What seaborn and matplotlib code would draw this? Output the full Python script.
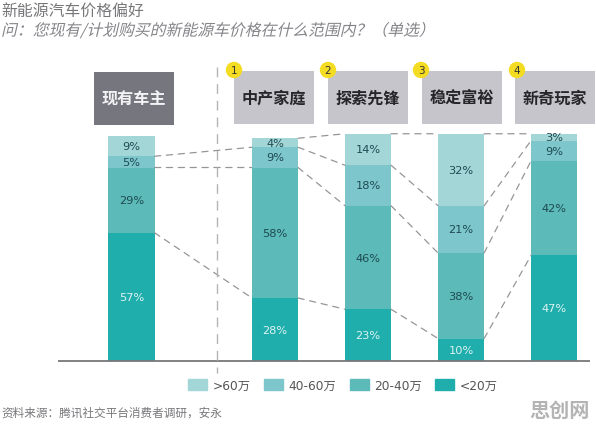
import matplotlib
matplotlib.use("Agg")
import matplotlib.pyplot as plt
import matplotlib.patheffects as pe
from matplotlib.patches import ConnectionPatch, Patch, Rectangle, Circle
from matplotlib.transforms import Affine2D
import pandas as pd
import seaborn as sns

sns.set_theme(style="white")
plt.rcParams["font.family"] = ["DejaVu Sans", "Noto Sans CJK SC"]
CJK = ["Noto Sans CJK SC", "DejaVu Sans"]

# Share of respondents per price band, in percent
owner_group = ["现有车主"]
buyer_groups = ["中产家庭", "探索先锋", "稳定富裕", "新奇玩家"]
bands = ["<20万", "20-40万", "40-60万", ">60万"]
under_20 = [57, 28, 23, 10, 47]
from_20_to_40 = [29, 58, 46, 38, 42]
from_40_to_60 = [5, 9, 18, 21, 9]
over_60 = [9, 4, 14, 32, 3]
series = [under_20, from_20_to_40, from_40_to_60, over_60]
palette = ["#1FAEAC", "#5CBAB8", "#7CC6CC", "#A3D6D6"]
text_colors = ["#DDF3F2", "#1F4A52", "#1F4A52", "#1F4A52"]

title_text = "新能源汽车价格偏好"
question_text = "问\uff1a您现有/计划购买的新能源车价格在什么范围内\uff1f\uff08单选\uff09"
source_text = "资料来源\uff1a腾讯社交平台消费者调研\uff0c安永"

W, H = 596, 427
BASE, PX_PER_PCT, TOP = 362, 2.25, 128
BAR_WIDTH = 0.495
fig = plt.figure(figsize=(W / 100, H / 100), dpi=100)


def axes_px(left, right):
    return fig.add_axes([left / W, 1 - BASE / H, (right - left) / W, (BASE - TOP) / H])


ax_owner = axes_px(85, 178)
ax_buyer = axes_px(228.5, 596)
groups = owner_group + buyer_groups

# Long-form table, one layer of running totals per band
rows = []
running = [0] * len(groups)
for band, vals in zip(bands, series):
    low = list(running)
    running = [r + v for r, v in zip(running, vals)]
    rows += [dict(group=g, band=band, value=v, low=l, high=r)
             for g, v, l, r in zip(groups, vals, low, running)]
df = pd.DataFrame(rows)

# Stacks come from overlaying running totals, tallest first
for ax, names in ((ax_owner, owner_group), (ax_buyer, buyer_groups)):
    sub = df[df.group.isin(names)]
    for band, color in reversed(list(zip(bands, palette))):
        sns.barplot(data=sub[sub.band == band], x="group", y="high", order=names,
                    color=color, saturation=1, width=BAR_WIDTH, ax=ax, errorbar=None,
                    linewidth=0, edgecolor="none")
    for i, name in enumerate(names):
        for band, tc in zip(bands, text_colors):
            row = sub[(sub.group == name) & (sub.band == band)].iloc[0]
            ax.text(i, (row.low + row.high) / 2, f"{row.value}%", ha="center",
                    va="center", fontsize=8.2, color=tc, clip_on=False, zorder=5)
    ax.set_ylim(0, (BASE - TOP) / PX_PER_PCT)
    ax.axis("off")
ax_owner.set_xlim(-0.5, 0.5)
ax_buyer.set_xlim(-0.5, 3.45)


# Dashed links between the band boundaries of neighbouring bars
def link(ax_a, i_a, ax_b, i_b, y_a, y_b):
    fig.add_artist(ConnectionPatch(
        (i_a + BAR_WIDTH / 2, y_a), (i_b - BAR_WIDTH / 2, y_b),
        coordsA=ax_a.transData, coordsB=ax_b.transData,
        color="#96969A", lw=0.9, ls=(0, (5, 4.5)), zorder=4))


def levels(k):
    return df[df.group == groups[k]].sort_values("high").high.tolist()


placement = [(ax_owner, 0)] + [(ax_buyer, j) for j in range(4)]
for k in range(len(groups) - 1):
    a, ia = placement[k]
    b, ib = placement[k + 1]
    la, lb = levels(k), levels(k + 1)
    count = 3 if k == 0 else 4
    for y_a, y_b in zip(la[:count], lb[:count]):
        link(a, ia, b, ib, y_a, y_b)

# Overlay in pixel coordinates for headers, rules and notes
ov = fig.add_axes([0, 0, 1, 1], zorder=6)
ov.set_xlim(0, W)
ov.set_ylim(H, 0)
ov.axis("off")
ov.patch.set_alpha(0)

ov.plot([58, 590], [BASE, BASE], color="#77777A", lw=1.3, solid_capstyle="butt")
ov.plot([216.5, 216.5], [68, 374], color="#B4B4B8", lw=1, ls=(0, (7, 5)))


class Slant(pe.AbstractPathEffect):
    """Shear glyph outlines so the CJK face reads as italic."""

    def draw_path(self, renderer, gc, tpath, affine, rgbFace=None):
        renderer.draw_path(gc, tpath, Affine2D().skew_deg(13, 0) + affine, rgbFace)


ov.text(1, 11, title_text, family=CJK, fontsize=11.4, color="#77777A", va="center")
ov.text(1, 32, question_text, family=CJK, fontsize=11.4, color="#85858A", va="center",
        path_effects=[Slant()])

ov.add_patch(Rectangle((94, 73), 80, 53, color="#76767E", lw=0))
ov.text(134, 100, owner_group[0], family=CJK, fontsize=11.6, weight="bold",
        color="#F4F4F6", ha="center", va="center")
for n, (name, left, cx) in enumerate(zip(buyer_groups, (233.5, 328, 422, 515), (234, 328, 421, 517)), 1):
    ov.add_patch(Rectangle((left, 72), 80, 53, color="#C6C5CC", lw=0))
    ov.text(left + 40, 98.5, name, family=CJK, fontsize=11.6, weight="bold",
            color="#26262A", ha="center", va="center")
    ov.add_patch(Circle((cx, 71), 8.2, color="#F4DC22", lw=0, zorder=3))
    ov.text(cx, 71, str(n), fontsize=7.5, color="#333333", ha="center", va="center", zorder=4)

handles = [Patch(color=c, label=b) for b, c in reversed(list(zip(bands, palette)))]
fig.legend(handles=handles, ncol=4, frameon=False, loc="center", bbox_to_anchor=(343 / W, 1 - 386 / H),
           prop=dict(size=8.8, family=["DejaVu Sans", "Noto Sans CJK SC"]), labelcolor="#555558",
           handlelength=1.55, handleheight=0.95, handletextpad=0.45, columnspacing=1.1,
           borderpad=0, borderaxespad=0)

ov.text(1, 413, source_text, family=CJK, fontsize=8.4, color="#77777A", va="center")
ov.text(590, 410, "思创网", family=CJK, fontsize=14.5, weight="bold", color="#B4B4B4",
        ha="right", va="center")

fig.savefig("out.png", dpi=100, facecolor="white")
